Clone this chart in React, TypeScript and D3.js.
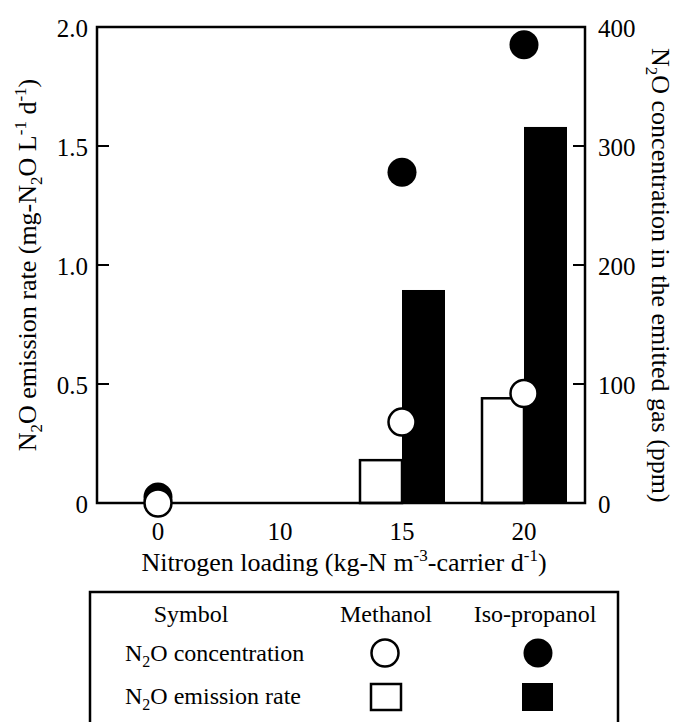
import React from "react";
import { scaleLinear, scalePoint } from "d3";

// nitrogen loading categories (kg-N m-3-carrier d-1)
const loadings = ["0", "10", "15", "20"];
// N2O emission rate, mg-N2O L-1 d-1 (null = not measured)
const methanolRate = [0, null, 0.18, 0.44];
const isoRate = [0, null, 0.895, 1.58];
// N2O concentration in emitted gas, ppm
const methanolConc = [0, null, 68, 92];
const isoConc = [5, null, 278, 385];

const leftTicks = [0, 0.5, 1.0, 1.5, 2.0];
const leftTickLabels = ["0", "0.5", "1.0", "1.5", "2.0"];
const rightTicks = [0, 100, 200, 300, 400];

const FONT = "'Liberation Serif', 'Times New Roman', serif";

export default function App() {
  const width = 675;
  const height = 722;
  const plot = { left: 97, right: 585, top: 27, bottom: 503 };
  const fs = 25; // tick labels
  const ts = 26; // axis titles
  const ls = 24; // legend table
  const sub = 17;

  const x = scalePoint<string>()
    .domain(loadings)
    .range([plot.left, plot.right])
    .padding(0.5);
  const yRate = scaleLinear().domain([0, 2]).range([plot.bottom, plot.top]);
  const yConc = scaleLinear().domain([0, 400]).range([plot.bottom, plot.top]);

  const barW = 42;
  const tick = 12;
  const midY = (plot.top + plot.bottom) / 2;

  return (
    <div style={{ position: "absolute", left: 0, top: 0 }}>
      <svg
        width={width}
        height={height}
        style={{ background: "white", display: "block", fontFamily: FONT }}
      >
        {/* bars */}
        {loadings.map((d, i) => {
          const cx = x(d) as number;
          const m = methanolRate[i];
          const p = isoRate[i];
          return (
            <g key={"bar" + d}>
              {m ? (
                <rect
                  x={cx - barW}
                  y={yRate(m)}
                  width={barW}
                  height={plot.bottom - yRate(m)}
                  fill="white"
                  stroke="black"
                  strokeWidth={2.5}
                />
              ) : null}
              {p ? (
                <rect
                  x={cx}
                  y={yRate(p)}
                  width={barW + 1}
                  height={plot.bottom - yRate(p)}
                  fill="black"
                />
              ) : null}
            </g>
          );
        })}

        {/* frame */}
        <rect
          x={plot.left}
          y={plot.top}
          width={plot.right - plot.left}
          height={plot.bottom - plot.top}
          fill="none"
          stroke="black"
          strokeWidth={2.5}
        />

        {/* circles */}
        {loadings.map((d, i) =>
          isoConc[i] != null ? (
            <circle
              key={"ic" + d}
              cx={x(d)}
              cy={yConc(isoConc[i] as number)}
              r={14.5}
              fill="black"
            />
          ) : null
        )}
        {loadings.map((d, i) =>
          methanolConc[i] != null ? (
            <circle
              key={"mc" + d}
              cx={x(d)}
              cy={yConc(methanolConc[i] as number)}
              r={13.5}
              fill="white"
              stroke="black"
              strokeWidth={2.5}
            />
          ) : null
        )}

        {/* left axis */}
        {leftTicks.map((t, i) => (
          <g key={"lt" + t}>
            {t > 0 && t < 2 ? (
              <line
                x1={plot.left}
                x2={plot.left + tick}
                y1={yRate(t)}
                y2={yRate(t)}
                stroke="black"
                strokeWidth={2}
              />
            ) : null}
            <text
              x={plot.left - 9}
              y={yRate(t) + 10}
              textAnchor="end"
              fontSize={fs}
            >
              {leftTickLabels[i]}
            </text>
          </g>
        ))}

        {/* right axis */}
        {rightTicks.map((t) => (
          <g key={"rt" + t}>
            {t > 0 && t < 400 ? (
              <line
                x1={plot.right}
                x2={plot.right - tick}
                y1={yConc(t)}
                y2={yConc(t)}
                stroke="black"
                strokeWidth={2}
              />
            ) : null}
            <text x={plot.right + 13} y={yConc(t) + 10} fontSize={fs}>
              {t}
            </text>
          </g>
        ))}

        {/* x axis labels */}
        {loadings.map((d) => (
          <text
            key={"xl" + d}
            x={x(d)}
            y={540}
            textAnchor="middle"
            fontSize={fs}
          >
            {d}
          </text>
        ))}
        <text x={344} y={571} textAnchor="middle" fontSize={ts}>
          Nitrogen loading (kg-N m
          <tspan fontSize={sub} dy={-10}>-3</tspan>
          <tspan dy={10}>-carrier d</tspan>
          <tspan fontSize={sub} dy={-10}>-1</tspan>
          <tspan dy={10}>)</tspan>
        </text>

        {/* left title */}
        <text
          transform={`translate(36, ${midY}) rotate(-90)`}
          textAnchor="middle"
          fontSize={ts}
        >
          N<tspan fontSize={sub} dy={6}>2</tspan>
          <tspan dy={-6}>O emission rate (mg-N</tspan>
          <tspan fontSize={sub} dy={6}>2</tspan>
          <tspan dy={-6}>O L</tspan>
          <tspan fontSize={sub} dy={-10}>-1</tspan>
          <tspan dy={10}> d</tspan>
          <tspan fontSize={sub} dy={-10}>-1</tspan>
          <tspan dy={10}>)</tspan>
        </text>

        {/* right title */}
        <text
          transform={`translate(652, 48) rotate(90)`}
          textAnchor="start"
          fontSize={ts}
        >
          N<tspan fontSize={sub} dy={6}>2</tspan>
          <tspan dy={-6}>O concentration in the emitted gas (ppm)</tspan>
        </text>

        {/* legend table */}
        <path
          d={`M90,${height} V592 H618 V${height}`}
          fill="none"
          stroke="black"
          strokeWidth={2.5}
        />
        <text x={191} y={622} textAnchor="middle" fontSize={ls}>
          Symbol
        </text>
        <text x={386} y={622} textAnchor="middle" fontSize={ls}>
          Methanol
        </text>
        <text x={535} y={622} textAnchor="middle" fontSize={ls}>
          Iso-propanol
        </text>
        <text x={125} y={661} fontSize={ls}>
          N<tspan fontSize={16} dy={6}>2</tspan>
          <tspan dy={-6}>O concentration</tspan>
        </text>
        <text x={125} y={704} fontSize={ls}>
          N<tspan fontSize={16} dy={6}>2</tspan>
          <tspan dy={-6}>O emission rate</tspan>
        </text>
        <circle cx={385} cy={653} r={13.5} fill="white" stroke="black" strokeWidth={2.5} />
        <circle cx={538} cy={653} r={14.5} fill="black" />
        <rect x={371} y={684} width={30} height={26} fill="white" stroke="black" strokeWidth={2.5} />
        <rect x={522} y={683} width={31} height={28} fill="black" />
      </svg>
    </div>
  );
}
